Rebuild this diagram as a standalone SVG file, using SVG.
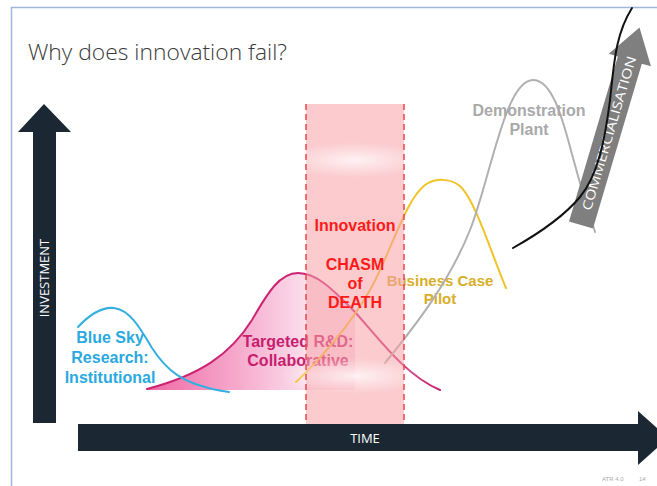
<svg xmlns="http://www.w3.org/2000/svg" width="657" height="486" viewBox="0 0 657 486">
<defs>
<style>
.lbl{font-family:"Liberation Sans",Arial,sans-serif;font-weight:700;font-size:16px;text-anchor:middle}
.sm{font-size:15px}
.ax{font-family:"Open Sans","Liberation Sans",Arial,sans-serif;font-size:13px;fill:#ffffff;text-anchor:middle}
.curve{fill:none;stroke-width:2;stroke-linecap:round}
.dark{fill:#1b2833}
</style>
<linearGradient id="pinkFill" gradientUnits="userSpaceOnUse" x1="147" y1="0" x2="310" y2="0">
<stop offset="0" stop-color="#ef68a4"/>
<stop offset="0.55" stop-color="#f6a9cc"/>
<stop offset="1" stop-color="#fbe1ed"/>
</linearGradient>
<radialGradient id="band">
<stop offset="0" stop-color="#ffffff" stop-opacity="0.75"/>
<stop offset="0.5" stop-color="#ffffff" stop-opacity="0.35"/>
<stop offset="1" stop-color="#ffffff" stop-opacity="0"/>
</radialGradient>
</defs>
<rect width="657" height="486" fill="#ffffff"/>
<rect x="11.5" y="7.5" width="700" height="520" fill="none" stroke="#9db7dc" stroke-width="1.5"/>

<g id="title">
<text x="28" y="60" font-family="'Open Sans','Liberation Sans',Arial,sans-serif" font-weight="300" font-size="22" fill="#3a3a3a" textLength="259" lengthAdjust="spacingAndGlyphs">Why does innovation fail?</text>
</g>

<g id="investment-axis">
<path class="dark" d="M33,423 L33,132 L18,132 L44,104 L71,132 L56,132 L56,423 Z"/>
<text class="ax" x="44" y="278" dy="5" transform="rotate(-90 44 278)">INVESTMENT</text>
</g>

<g id="time-axis">
<path class="dark" d="M78,424 L638,424 L638,411 L668,438 L638,465 L638,451 L78,451 Z"/>
<text class="ax" x="365" y="443" font-size="14">TIME</text>
</g>

<g id="targeted-rd">
<path d="M147,389 C200,375 230,355 252,320 C268,292 280,273 298,273 C318,273 335,292 355,312 L355,390 L147,390 Z" fill="url(#pinkFill)"/>
<path class="curve" stroke="#cc2373" d="M147,389 C200,375 230,355 252,320 C268,292 280,273 298,273 C318,273 335,292 355,312 C380,340 405,375 440,390"/>
<text class="lbl" fill="#c8206e" x="298" y="347">Targeted R&amp;D:</text>
<text class="lbl" fill="#c8206e" x="298" y="366">Collaborative</text>
</g>

<g id="blue-sky">
<path class="curve" stroke="#33b0e0" stroke-width="2.5" d="M78,327 C92,312 104,307 114,308 C130,310 140,328 152,348 C165,368 180,385 229,392"/>
<text class="lbl" fill="#2aa9e0" x="110" y="343">Blue Sky</text>
<text class="lbl" fill="#2aa9e0" x="110" y="363">Research:</text>
<text class="lbl" fill="#2aa9e0" x="110" y="383">Institutional</text>
</g>

<g id="business-case">
<path class="curve" stroke="#f2c229" d="M296,382 C320,360 350,325 370,290 C390,255 405,200 425,185 C435,178 450,178 460,186 C475,200 490,250 506,288"/>
<text class="lbl sm" fill="#d8ae2a" x="440" y="286">Business Case</text>
<text class="lbl sm" fill="#d8ae2a" x="440" y="304">Pilot</text>
</g>

<g id="demonstration">
<path class="curve" stroke="#b0b0b0" stroke-width="1.6" d="M385,363 C420,320 450,280 470,230 C490,180 505,80 533,80 C555,80 565,130 575,165 C583,195 590,215 595,232"/>
<text class="lbl" fill="#a9a9a9" x="529" y="116">Demonstration</text>
<text class="lbl" fill="#a9a9a9" x="529" y="135">Plant</text>
</g>

<g id="chasm">
<rect x="306" y="104" width="98" height="320" fill="#f8a0a6" fill-opacity="0.55"/>
<ellipse cx="355" cy="160" rx="75" ry="18" fill="url(#band)"/>
<ellipse cx="355" cy="376" rx="75" ry="18" fill="url(#band)"/>
<line x1="306" y1="104" x2="306" y2="424" stroke="#e8444e" stroke-width="1.5" stroke-dasharray="6 4"/>
<line x1="404" y1="104" x2="404" y2="424" stroke="#e8444e" stroke-width="1.5" stroke-dasharray="6 4"/>
<text class="lbl" fill="#ff1a1a" x="355" y="231">Innovation</text>
<text class="lbl" fill="#ff1a1a" x="355" y="270">CHASM</text>
<text class="lbl" fill="#ff1a1a" x="355" y="289">of</text>
<text class="lbl" fill="#ff1a1a" x="355" y="308">DEATH</text>
</g>

<g id="commercialisation">
<g transform="translate(581 225) rotate(16.5)">
<path fill="#7f7f7f" d="M-12.5,0 L-12.5,-172 L-22,-172 L0,-206 L22,-172 L12.5,-172 L12.5,0 Z"/>
<text class="ax" x="0" y="-96" dy="5.5" font-size="15" textLength="160" lengthAdjust="spacingAndGlyphs" transform="rotate(-90 0 -96)">COMMERCIALISATION</text>
</g>
</g>

<g id="connectors">
<path class="curve" stroke="#111111" d="M513,248 C545,230 565,215 580,197 C598,175 605,140 610,100 C614,65 615,35 632,8"/>
</g>

<g id="footer" font-family="'Liberation Sans',Arial,sans-serif" font-size="6" fill="#aaaaaa">
<text x="602" y="481">ATR 4.0</text>
<text x="639" y="481">14</text>
</g>
</svg>
